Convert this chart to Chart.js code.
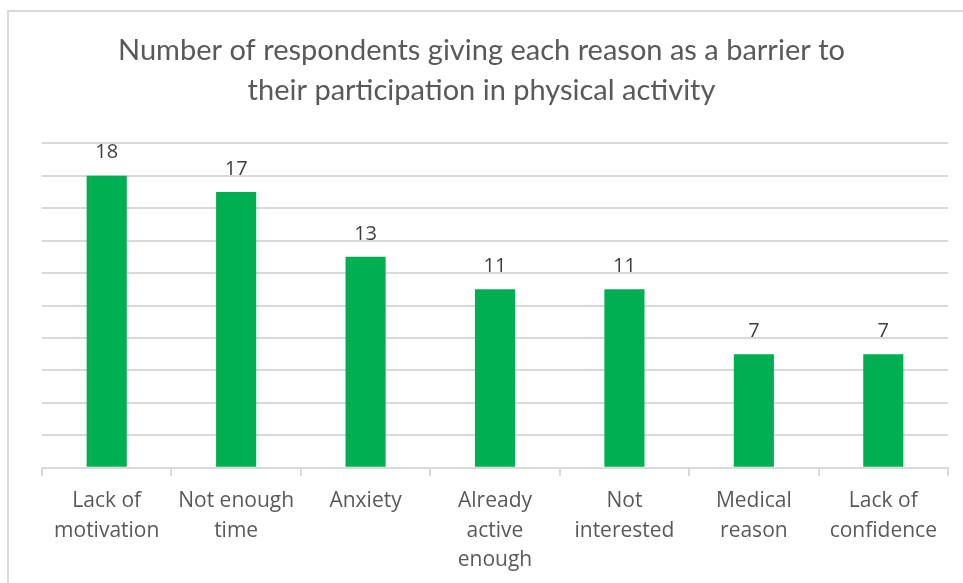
<!DOCTYPE html>
<html>
<head>
<meta charset="utf-8">
<script src="https://cdn.jsdelivr.net/npm/chart.js@4.4.1/dist/chart.umd.min.js"></script>
<style>
    html, body { margin: 0; padding: 0; background: #fff; }
    #wrap { position: relative; width: 963px; height: 583px; }
    #myChart { position: absolute; left: 0; top: 0; }
    #frame { position: absolute; left: 7px; top: 10px; right: -5px; bottom: -5px;
        border-left: 2px solid #d9d9d9; border-top: 2px solid #d9d9d9; pointer-events: none; }
</style>
</head>
<body>
<div id="wrap">
    <canvas id="myChart" width="963" height="583"></canvas>
    <div id="frame"></div>
</div>
<script>
const titleLines = [
    "Number of respondents giving each reason as a barrier to",
    "their participation in physical activity"
];
const reasons = [
    ["Lack of", "motivation"],
    ["Not enough", "time"],
    ["Anxiety"],
    ["Already", "active", "enough"],
    ["Not", "interested"],
    ["Medical", "reason"],
    ["Lack of", "confidence"]
];
const respondents = [18, 17, 13, 11, 11, 7, 7];

// draws the value above each bar (no datalabels plugin offline)
const valueLabels = {
    id: "valueLabels",
    afterDatasetsDraw(chart) {
        const ctx = chart.ctx;
        const meta = chart.getDatasetMeta(0);
        ctx.save();
        ctx.font = "20px 'Open Sans'";
        ctx.fillStyle = "#404040";
        ctx.textAlign = "center";
        ctx.textBaseline = "bottom";
        meta.data.forEach((bar, i) => {
            ctx.fillText(String(respondents[i]), bar.x, bar.y - 13);
        });
        ctx.restore();
    }
};

const ctx = document.getElementById("myChart").getContext("2d");
new Chart(ctx, {
    type: "bar",
    data: {
        labels: reasons,
        datasets: [
            {
                label: "Respondents",
                data: respondents,
                backgroundColor: "#00b050",
                borderWidth: 0,
                categoryPercentage: 1,
                barPercentage: 0.31
            }
        ]
    },
    options: {
        responsive: false,
        animation: false,
        layout: {padding: {left: 15, right: 15, top: 0, bottom: -3}},
        plugins: {
            legend: {display: false},
            tooltip: {enabled: false},
            title: {
                display: true,
                text: titleLines,
                color: "#595959",
                font: {family: "Lato", size: 29, weight: "normal", lineHeight: 1.4},
                padding: {top: 30, bottom: 32}
            }
        },
        scales: {
            y: {
                min: 0,
                max: 20,
                ticks: {stepSize: 2, display: false},
                grid: {color: "#d9d9d9", lineWidth: 2, drawTicks: false},
                border: {display: false},
                afterFit: (scale) => { scale.width = 27; }
            },
            x: {
                grid: {offset: true, drawOnChartArea: false, color: "#d9d9d9", lineWidth: 2, tickLength: 8},
                border: {color: "#d9d9d9", width: 2},
                ticks: {
                    color: "#595959",
                    font: {family: "Open Sans", size: 21, lineHeight: 1.4},
                    padding: 11,
                    maxRotation: 0,
                    autoSkip: false
                }
            }
        }
    },
    plugins: [valueLabels]
});
</script>
</body>
</html>
